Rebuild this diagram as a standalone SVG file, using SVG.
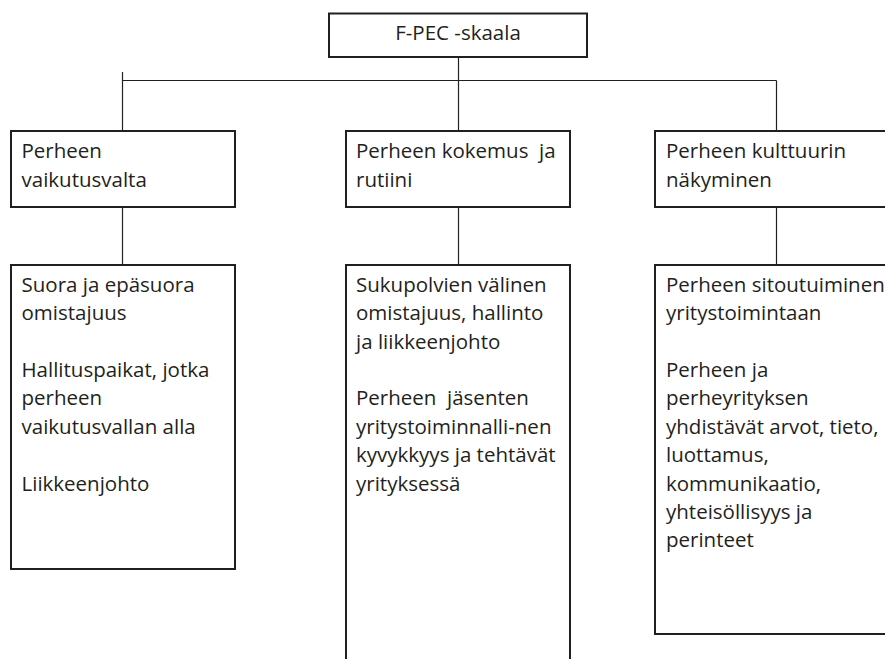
<svg xmlns="http://www.w3.org/2000/svg" width="885" height="659" viewBox="0 0 885 659">
<style>
.box{fill:#fff;stroke:#231f20;stroke-width:2}
.con{stroke:#231f20;stroke-width:1.2;fill:none}
text{font-family:"Open Sans","Noto Sans",sans-serif;font-size:20.5px;fill:#231f20;white-space:pre}
</style>
<rect width="885" height="659" fill="#fff"/>
<g id="connectors">
<line class="con" x1="458.5" y1="57" x2="458.5" y2="131"/>
<line class="con" x1="122.5" y1="80.5" x2="776.5" y2="80.5"/>
<line class="con" x1="122.5" y1="72" x2="122.5" y2="131"/>
<line class="con" x1="776.5" y1="80.5" x2="776.5" y2="131"/>
<line class="con" x1="122.5" y1="207" x2="122.5" y2="265"/>
<line class="con" x1="458.5" y1="207" x2="458.5" y2="265"/>
<line class="con" x1="776.5" y1="207" x2="776.5" y2="265"/>
</g>
<g id="root">
<rect class="box" x="329" y="13.5" width="258" height="43.5"/>
<text x="458" y="39.5" text-anchor="middle">F-PEC -skaala</text>
</g>
<g id="influence">
<rect class="box" x="11" y="131" width="224" height="76"/>
<text x="21.5" y="158.3">Perheen</text>
<text x="21.5" y="187.3">vaikutusvalta</text>
</g>
<g id="experience">
<rect class="box" x="346" y="131" width="224" height="76"/>
<text x="356" y="158.3" xml:space="preserve">Perheen kokemus  ja</text>
<text x="356" y="187.3">rutiini</text>
</g>
<g id="culture">
<rect class="box" x="655" y="131" width="240" height="76"/>
<text x="666" y="158.3">Perheen kulttuurin</text>
<text x="666" y="187.3">näkyminen</text>
</g>
<g id="influence-items">
<rect class="box" x="11" y="265" width="224" height="304"/>
<text x="21.5" y="291.7">Suora ja epäsuora</text>
<text x="21.5" y="320.1">omistajuus</text>
<text x="21.5" y="376.9">Hallituspaikat, jotka</text>
<text x="21.5" y="405.3">perheen</text>
<text x="21.5" y="433.7">vaikutusvallan alla</text>
<text x="21.5" y="490.5">Liikkeenjohto</text>
</g>
<g id="experience-items">
<rect class="box" x="346" y="265" width="224" height="410"/>
<text x="356" y="291.7">Sukupolvien välinen</text>
<text x="356" y="320.1">omistajuus, hallinto</text>
<text x="356" y="348.5">ja liikkeenjohto</text>
<text x="356" y="405.3" xml:space="preserve">Perheen  jäsenten</text>
<text x="356" y="433.7">yritystoiminnalli-nen</text>
<text x="356" y="462.1">kyvykkyys ja tehtävät</text>
<text x="356" y="490.5">yrityksessä</text>
</g>
<g id="culture-items">
<rect class="box" x="655" y="265" width="240" height="369"/>
<text x="666" y="291.7">Perheen sitoutuiminen</text>
<text x="666" y="320.1">yritystoimintaan</text>
<text x="666" y="376.9">Perheen ja</text>
<text x="666" y="405.3">perheyrityksen</text>
<text x="666" y="433.7">yhdistävät arvot, tieto,</text>
<text x="666" y="462.1">luottamus,</text>
<text x="666" y="490.5">kommunikaatio,</text>
<text x="666" y="518.9">yhteisöllisyys ja</text>
<text x="666" y="547.3">perinteet</text>
</g>
</svg>
